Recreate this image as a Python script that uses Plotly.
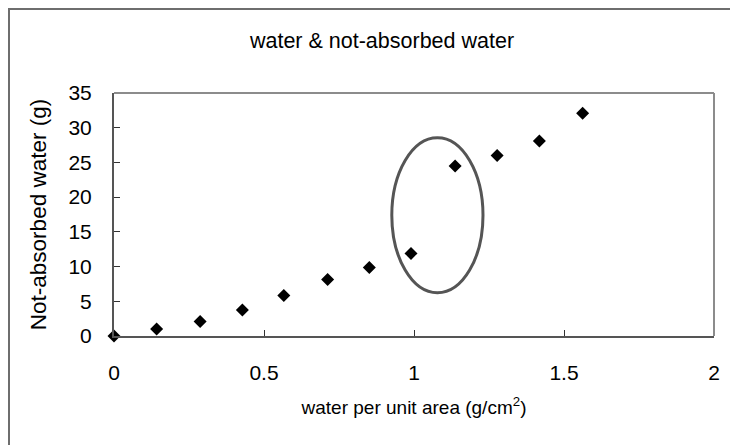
import plotly.graph_objects as go

# Data
water_per_area = [0, 0.142, 0.287, 0.428, 0.566, 0.712, 0.851, 0.99, 1.137, 1.277, 1.418, 1.562]
not_absorbed = [0, 1.0, 2.1, 3.75, 5.85, 8.15, 9.85, 11.9, 24.5, 26.0, 28.1, 32.1]
x_ticks = [0, 0.5, 1, 1.5, 2]
x_tick_text = ["0", "0.5", "1", "1.5", "2"]
y_ticks = [0, 5, 10, 15, 20, 25, 30, 35]
highlight = {"x0": 0.926, "x1": 1.23, "y0": 6.22, "y1": 28.56}

FONT = "Liberation Sans"

# the page body adds an 8px offset, so the figure is 8px smaller
W, H = 730, 437
L, R, T, B = 106, 24, 85, 109
PW, PH = W - L - R, H - T - B

fig = go.Figure()
fig.add_trace(go.Scatter(
    x=water_per_area, y=not_absorbed, mode="markers",
    marker=dict(symbol="diamond", size=10, color="black"),
    cliponaxis=False, showlegend=False,
))

fig.add_shape(type="circle", xref="x", yref="y",
              x0=highlight["x0"], x1=highlight["x1"], y0=highlight["y0"], y1=highlight["y1"],
              line=dict(color="#555555", width=3))

# top and right plot frame edges (lighter gray)
fig.add_shape(type="line", xref="paper", yref="paper", x0=0, x1=1, y0=1, y1=1,
              line=dict(color="#8c8c8c", width=2))
fig.add_shape(type="line", xref="paper", yref="paper", x0=1, x1=1, y0=0, y1=1,
              line=dict(color="#8c8c8c", width=2))

# outer chart frame (left and top edges visible)
fig.add_shape(type="rect", xref="paper", yref="paper",
              x0=(1 - L) / PW, x1=1.1, y0=-0.6, y1=(PH + T - 1) / PH,
              line=dict(color="#6e6e6e", width=2), layer="below")

fig.update_layout(
    width=W, height=H,
    margin=dict(l=L, r=R, t=T, b=B),
    paper_bgcolor="white", plot_bgcolor="white",
    font=dict(family=FONT, color="black"),
    title=dict(text="water & not-absorbed water", x=374 / W, xanchor="center",
               y=1 - 32 / H, yanchor="middle", font=dict(size=21.5, family=FONT)),
)
fig.update_xaxes(
    range=[0, 2], tickvals=x_ticks, ticktext=x_tick_text,
    showgrid=False, zeroline=False, automargin=False,
    showline=True, linecolor="#555555", linewidth=2, mirror=False,
    ticks="inside", ticklen=6, tickcolor="#333", tickwidth=1,
    tickfont=dict(size=21, family=FONT), ticklabelstandoff=17,
    title=dict(text="water per unit area (g/cm<sup>2</sup>)", font=dict(size=19, family=FONT), standoff=17),
)
fig.update_yaxes(
    range=[0, 35], tickvals=y_ticks,
    showgrid=False, zeroline=False, automargin=False,
    showline=True, linecolor="#555555", linewidth=2, mirror=False,
    ticks="inside", ticklen=6, tickcolor="#333", tickwidth=1,
    tickfont=dict(size=21, family=FONT), ticklabelstandoff=16,
    title=dict(text="Not-absorbed water (g)", font=dict(size=22.5, family=FONT), standoff=16),
)

fig.write_html("out.html")
